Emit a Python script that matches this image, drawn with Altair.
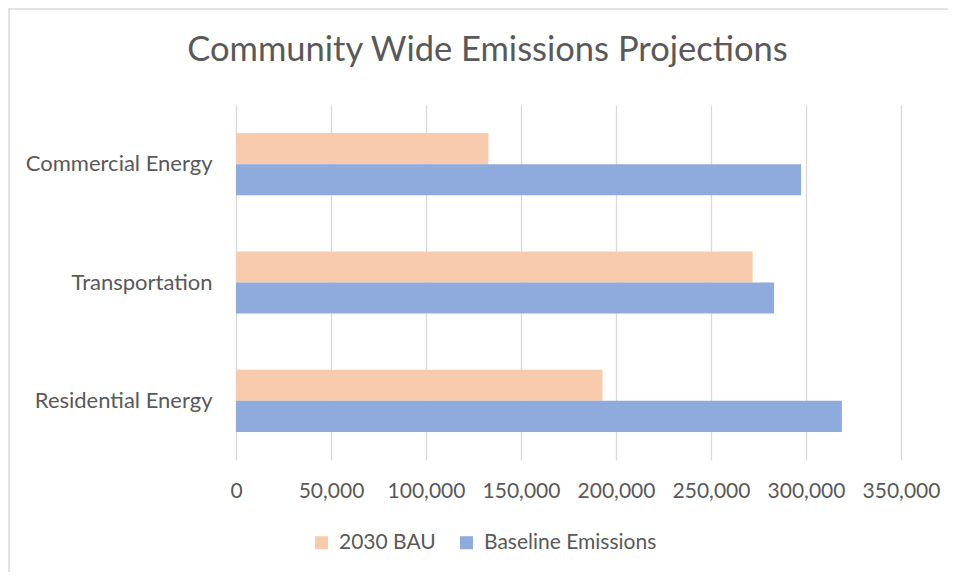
import altair as alt
import pandas as pd

categories = ["Commercial Energy", "Transportation", "Residential Energy"]
series = ["2030 BAU", "Baseline Emissions"]
bau_2030 = [132900, 271900, 192900]
baseline = [297400, 283200, 318900]
colors = ["#F8CBAD", "#8FAADC"]
x_ticks = [0, 50000, 100000, 150000, 200000, 250000, 300000, 350000]

rows = []
for c, a, b in zip(categories, bau_2030, baseline):
    rows.append({"category": c, "series": series[0], "value": a})
    rows.append({"category": c, "series": series[1], "value": b})
df = pd.DataFrame(rows)

FONT = "Lato"
TXT = "#595959"

bars = alt.Chart(df).mark_bar().encode(
    x=alt.X("value:Q",
            scale=alt.Scale(domain=[0, 350000], nice=False),
            axis=alt.Axis(values=x_ticks, format=",.0f", title=None, grid=True,
                          gridColor="#D9D9D9", gridWidth=1.3, domain=False, ticks=False,
                          labelOverlap=False, labelBound=False, labelFlush=False,
                          labelFontSize=21, labelColor=TXT, labelFont=FONT, labelPadding=20)),
    y=alt.Y("category:N", sort=categories,
            scale=alt.Scale(paddingInner=0.475, paddingOuter=0.2375),
            axis=alt.Axis(title=None, domain=False, ticks=False, grid=False,
                          labelFontSize=22, labelColor=TXT, labelFont=FONT, labelPadding=24,
                          labelLimit=300)),
    yOffset=alt.YOffset("series:N", sort=series, scale=alt.Scale(paddingInner=0, paddingOuter=0)),
    color=alt.Color("series:N", sort=series,
                    scale=alt.Scale(domain=series, range=colors),
                    legend=alt.Legend(title=None, orient="none", direction="horizontal",
                                      legendX=75, legendY=427, symbolType="square",
                                      symbolSize=170, symbolStrokeWidth=0,
                                      labelFontSize=21, labelColor=TXT, labelFont=FONT,
                                      labelOffset=7, columnPadding=20, labelLimit=400)),
)

frame_data = pd.DataFrame({"k": [0]})
left_line = alt.Chart(frame_data).mark_rule(color="#D9D9D9", strokeWidth=1.5).encode(
    x=alt.value(-227), y=alt.value(-97), y2=alt.value(520),
)
top_line = alt.Chart(frame_data).mark_rule(color="#D9D9D9", strokeWidth=1.5).encode(
    x=alt.value(-227), x2=alt.value(760), y=alt.value(-96),
)

chart = alt.layer(left_line, top_line, bars).properties(
    width=665, height=355,
    title=alt.Title("Community Wide Emissions Projections", fontSize=34.5, font=FONT,
                    color=TXT, fontWeight="normal", anchor="middle", dx=-81, offset=0, dy=61),
    padding={"left": 228, "top": 97, "right": 47, "bottom": 112},
    autosize=alt.AutoSizeParams(type="none"),
).configure_view(stroke=None)

chart.save("out.html", embed_options={"renderer": "svg", "actions": False})
